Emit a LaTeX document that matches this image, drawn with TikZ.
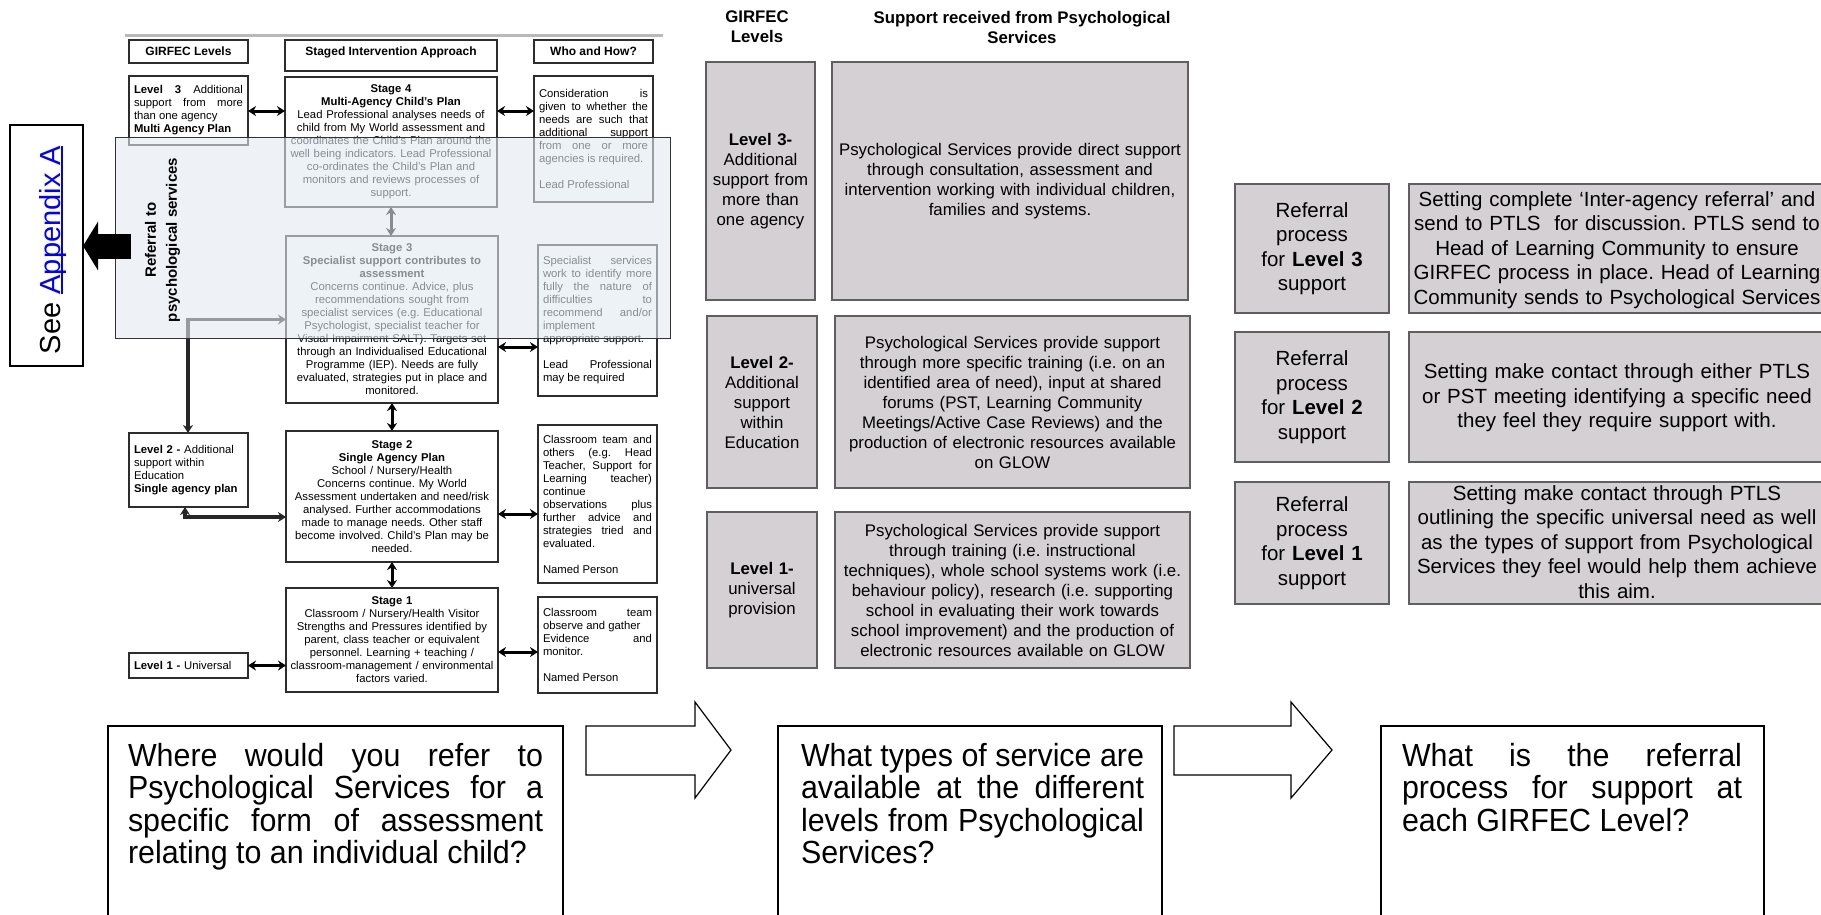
\documentclass[tikz,border=0pt]{standalone}
\usepackage{fontspec}
\setmainfont{Liberation Sans}
\newfontfamily\narrowfont[FakeStretch=0.95]{Liberation Sans}
\usetikzlibrary{arrows.meta}
\definecolor{boxgray}{RGB}{212,208,212}
\definecolor{boxedge}{RGB}{95,95,95}
\definecolor{ledge}{RGB}{45,45,45}
\definecolor{overlayfill}{RGB}{226,234,240}
\definecolor{linkblue}{RGB}{0,0,255}
\newcommand\panelfont{\fontsize{11.3}{13}\selectfont}
\newcommand\myunderline[1]{\setbox0\hbox{#1}\rlap{\rule[-2.5pt]{\wd0}{1.3pt}}\box0}
\frenchspacing
\begin{document}
\begin{tikzpicture}[x=1pt,y=-1pt,
  every node/.style={inner sep=0pt, outer sep=0pt},
  lbox/.style={draw=ledge, line width=1.2pt, fill=white, font=\panelfont},
  hfont/.style={font=\bfseries\fontsize{12}{14}\selectfont},
  jst/.style={align=justify, execute at begin node={\tolerance=10000\hbadness=10000\relax}},
  mbox/.style={draw=boxedge, line width=1.3pt, fill=boxgray, align=center, font=\fontsize{16.8}{20}\selectfont},
  rbox/.style={draw=boxedge, line width=1.3pt, fill=boxgray, align=center, font=\fontsize{20.5}{24.5}\selectfont},
  rtext/.style={align=center, text width=430pt, font=\fontsize{20.5}{24.5}\selectfont},
  qbox/.style={draw=black, line width=1.3pt},
  qtext/.style={font=\narrowfont\fontsize{32}{32.5}\selectfont, jst, anchor=north west},
  dbl/.style={{Stealth[length=8pt,width=10pt]}-{Stealth[length=8pt,width=10pt]}, line width=3pt, black},
  dblthick/.style={{Stealth[length=8pt,width=10pt]}-{Stealth[length=8pt,width=10pt]}, line width=3.4pt, black!85}
]
\useasboundingbox (0,0) rectangle (1821,914);

% ---------- left panel ----------
\draw[gray!55, line width=3pt] (125,35) -- (663,35);

\node[lbox, minimum width=119pt, minimum height=23pt, hfont] (hdrL) at (188.5,51.5) {GIRFEC Levels};
\node[lbox, minimum width=212pt, minimum height=31pt] (hdrS) at (391,55.5) {};
\node[hfont] (hdrStxt) at (391,52) {Staged Intervention Approach};
\node[lbox, minimum width=119pt, minimum height=23pt, hfont] (hdrW) at (593.5,51.5) {Who and How?};

\node[lbox, jst, minimum width=119pt, minimum height=69pt, text width=109pt] (lvl3) at (188.5,110.5)
 {\textbf{Level 3} Additional\linebreak support from more\linebreak than one agency\\\textbf{Multi Agency Plan}};
\node[lbox, align=center, minimum width=212pt, minimum height=130pt, text width=206pt] (st4) at (391,142)
 {\textbf{Stage 4}\\\textbf{Multi-Agency Child's Plan}\\Lead Professional analyses needs of\\child from My World assessment and\\coordinates the Child's Plan around the\\well being indicators. Lead Professional\\co-ordinates the Child's Plan and\\monitors and reviews processes of\\support.};
\node[lbox, jst, minimum width=119pt, minimum height=126pt, text width=109pt] (who4) at (593.5,139)
 {Consideration is\linebreak given to whether the\linebreak needs are such that\linebreak additional support\linebreak from one or more\linebreak agencies is required.\\[13pt]Lead Professional};

\node[lbox, align=center, minimum width=212pt, minimum height=167pt, text width=206pt] (st3) at (392,319.5)
 {\textbf{Stage 3}\\\textbf{Specialist support contributes to}\\\textbf{assessment}\\Concerns continue. Advice, plus\\recommendations sought from\\specialist services (e.g. Educational\\Psychologist, specialist teacher for\\Visual Impairment SALT). Targets set\\through an Individualised Educational\\Programme (IEP). Needs are fully\\evaluated, strategies put in place and\\monitored.};
\node[lbox, jst, minimum width=119pt, minimum height=151pt, text width=109pt] (who3) at (597.5,320.5)
 {Specialist services\linebreak work to identify more\linebreak fully the nature of\linebreak difficulties to\linebreak recommend and/or\linebreak implement\\appropriate support.\\[13pt]Lead Professional\linebreak may be required};

\node[lbox, align=left, minimum width=119pt, minimum height=74pt, text width=109pt] (lvl2) at (188.5,470)
 {\textbf{Level 2 -} Additional\\support within\\Education\\\textbf{Single agency plan}};
\node[lbox, align=center, minimum width=212pt, minimum height=131pt, text width=206pt] (st2) at (392,496.5)
 {\textbf{Stage 2}\\\textbf{Single Agency Plan}\\School / Nursery/Health\\Concerns continue. My World\\Assessment undertaken and need/risk\\analysed. Further accommodations\\made to manage needs. Other staff\\become involved. Child's Plan may be\\needed.};
\node[lbox, jst, minimum width=119pt, minimum height=158pt, text width=109pt] (who2) at (597.5,504)
 {Classroom team and\linebreak others (e.g. Head\linebreak Teacher, Support for\linebreak Learning teacher)\linebreak continue\\observations plus\linebreak further advice and\linebreak strategies tried and\linebreak evaluated.\\[13pt]Named Person};

\node[lbox, align=center, minimum width=212pt, minimum height=104pt, text width=206pt] (st1) at (392,640)
 {\textbf{Stage 1}\\Classroom / Nursery/Health Visitor\\Strengths and Pressures identified by\\parent, class teacher or equivalent\\personnel. Learning + teaching /\\classroom-management / environmental\\factors varied.};
\node[lbox, jst, minimum width=119pt, minimum height=96pt, text width=109pt] (who1) at (597.5,645)
 {Classroom team\linebreak observe and gather\\Evidence and\linebreak monitor.\\[13pt]Named Person};
\node[lbox, align=left, minimum width=119pt, minimum height=25pt, text width=109pt] (lvl1) at (188.5,665.5)
 {\textbf{Level 1 -} Universal};

\coordinate (y111) at (0,111);
\coordinate (y347) at (0,347);
\coordinate (y514) at (0,514);
\coordinate (y652) at (0,652);
\coordinate (y517) at (0,517);
\coordinate (x185) at (185,0);
\coordinate (x188) at (188,0);

\draw[dbl] (lvl3.east |- y111) -- (st4.west |- y111);
\draw[dbl] (st4.east |- y111) -- (who4.west |- y111);
\draw[dbl] (st4.south) -- (st4.south |- st3.north);
\draw[dbl] (st3.east |- y347) -- (who3.west |- y347);
\draw[dbl] (st3.south) -- (st3.south |- st2.north);
\draw[dbl] (st2.east |- y514) -- (who2.west |- y514);
\draw[dbl] (st2.south) -- (st2.south |- st1.north);
\draw[dbl] (st1.east |- y652) -- (who1.west |- y652);
\draw[dbl] (lvl1.east) -- (lvl1.east -| st1.west);
\draw[dblthick] (x185 |- lvl2.south) |- (st2.west |- y517);
\draw[dblthick] (st3.west) -| (x188 |- lvl2.north);

% overlay
\node[draw=black!80, line width=0.8pt, fill=overlayfill, fill opacity=0.6, minimum width=555pt, minimum height=201pt] (overlay) at (392.5,237.5) {};
\node[rotate=90, align=center, font=\bfseries\fontsize{15}{21}\selectfont] (reftxt) at (162.5,240) {Referral to\\psychological services};

% appendix
\node[draw=black, line width=1.5pt, fill=white, minimum width=73pt, minimum height=241pt] (appx) at (46.5,245.5) {};
\node[rotate=90, anchor=base, font=\fontsize{29}{34}\selectfont] (appxtxt) at (60,250)
 {See {\color{linkblue}\myunderline{Appendix A}}};
\coordinate (bigstart) at (131,246);
\draw[line width=25pt, -{Triangle[length=15pt,width=48pt]}] (bigstart) -- (appx.east |- bigstart);

% ---------- middle column ----------
\node[align=center, font=\bfseries\fontsize{16.8}{20}\selectfont] (mh1) at (757,27) {GIRFEC\\Levels};
\node[align=center, font=\bfseries\fontsize{16.8}{20}\selectfont] (mh2) at (1022,27) {Support received from Psychological\\Services};

\node[mbox, minimum width=109pt, minimum height=238pt, text width=105pt] (ml3) at (760.5,181)
 {\textbf{Level 3-}\\Additional\\support from\\more than\\one agency};
\node[mbox, minimum width=356pt, minimum height=238pt, text width=350pt] (ms3) at (1010,181)
 {Psychological Services provide direct support\\through consultation, assessment and\\intervention working with individual children,\\families and systems.};
\node[mbox, minimum width=110pt, minimum height=172pt, text width=106pt] (ml2) at (762,402)
 {\textbf{Level 2-}\\Additional\\support\\within\\Education};
\node[mbox, minimum width=355pt, minimum height=172pt, text width=350pt] (ms2) at (1012.5,402)
 {Psychological Services provide support\\through more specific training (i.e. on an\\identified area of need), input at shared\\forums (PST, Learning Community\\Meetings/Active Case Reviews) and the\\production of electronic resources available\\on GLOW};
\node[mbox, minimum width=110pt, minimum height=156pt, text width=106pt] (ml1) at (762,590)
 {\textbf{Level 1-}\\universal\\provision};
\node[mbox, minimum width=355pt, minimum height=156pt, text width=350pt] (ms1) at (1012.5,590)
 {Psychological Services provide support\\through training (i.e. instructional\\techniques), whole school systems work (i.e.\\behaviour policy), research (i.e. supporting\\school in evaluating their work towards\\school improvement) and the production of\\electronic resources available on GLOW};

% ---------- right column ----------
\node[rbox, minimum width=154pt, minimum height=129pt, text width=150pt] (rl3) at (1312,248.5)
 {Referral\\process\\for \textbf{Level 3}\\support};
\node[rbox, minimum width=420pt, minimum height=129pt] (rt3) at (1619,248.5) {};
\node[rtext] (rt3txt) at (1617,250)
 {Setting complete `Inter-agency referral' and\\send to PTLS\ \ for discussion. PTLS send to\\Head of Learning Community to ensure\\GIRFEC process in place. Head of Learning\\Community sends to Psychological Services};
\node[rbox, minimum width=154pt, minimum height=130pt, text width=150pt] (rl2) at (1312,397)
 {Referral\\process\\for \textbf{Level 2}\\support};
\node[rbox, minimum width=420pt, minimum height=130pt] (rt2) at (1619,397) {};
\node[rtext] (rt2txt) at (1617,398)
 {Setting make contact through either PTLS\\or PST meeting identifying a specific need\\they feel they require support with.};
\node[rbox, minimum width=154pt, minimum height=122pt, text width=150pt] (rl1) at (1312,543)
 {Referral\\process\\for \textbf{Level 1}\\support};
\node[rbox, minimum width=420pt, minimum height=122pt] (rt1) at (1619,543) {};
\node[rtext] (rt1txt) at (1617,542)
 {Setting make contact through PTLS\\outlining the specific universal need as well\\as the types of support from Psychological\\Services they feel would help them achieve\\this aim.};

% ---------- bottom questions ----------
\node[qbox, minimum width=455pt, minimum height=240pt] (q1) at (335.5,846) {};
\node[qbox, minimum width=384pt, minimum height=240pt] (q2) at (970,846) {};
\node[qbox, minimum width=383pt, minimum height=240pt] (q3) at (1572.5,846) {};
\node[qtext, text width=415pt] (q1t) at (128,743)
 {Where would you refer to\linebreak Psychological Services for a\linebreak specific form of assessment\linebreak relating to an individual child?};
\node[qtext, text width=343pt] (q2t) at (801,743)
 {What types of service are\linebreak available at the different\linebreak levels from Psychological\linebreak Services?};
\node[qtext, text width=340pt] (q3t) at (1402,743)
 {What is the referral\linebreak process for support at\linebreak each GIRFEC Level?};

\draw[line width=1.2pt, fill=white] (586,726) -- (695,726) -- (695,702) -- (731,750) -- (695,798) -- (695,775) -- (586,775) -- cycle;
\draw[line width=1.2pt, fill=white] (1174,726) -- (1291,726) -- (1291,702) -- (1332,750) -- (1291,798) -- (1291,775) -- (1174,775) -- cycle;
\end{tikzpicture}
\end{document}
